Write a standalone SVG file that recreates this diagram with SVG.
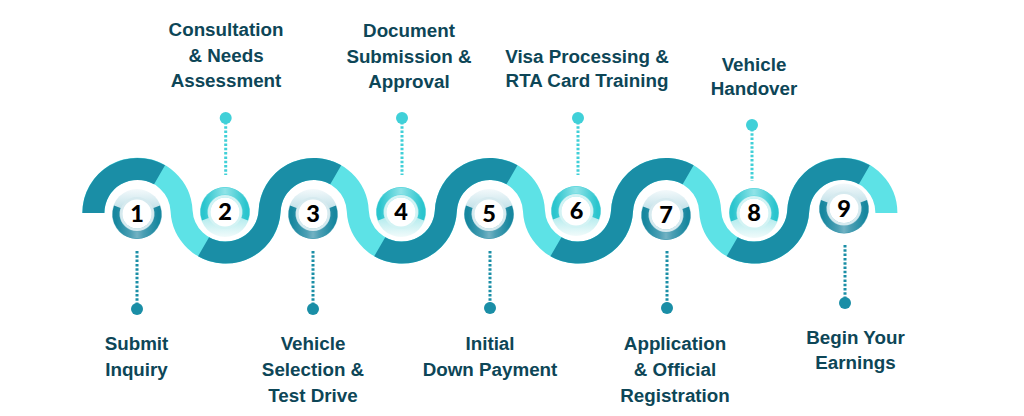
<svg xmlns="http://www.w3.org/2000/svg" width="1024" height="416" viewBox="0 0 1024 416">
  <style>
    .lbl { font-family: "Liberation Sans", Arial, sans-serif; font-weight: 700; font-size: 18.8px; fill: #0d4657; text-anchor: middle; }
    .num { font-family: Lato, "Liberation Sans", Arial, sans-serif; font-weight: 900; font-size: 23.5px; fill: #000000; text-anchor: middle; }
    .band { fill: none; stroke-width: 22; stroke-linecap: butt; }
    .dark { stroke: #1a8ea6; }
    .light { stroke: #5de2e6; }
    .dotline-d { stroke: #1a8ea6; stroke-width: 3; stroke-dasharray: 2.5 1.8; fill: none; }
    .dotline-l { stroke: #40d0d8; stroke-width: 3; stroke-dasharray: 2.5 1.8; fill: none; }
    .dot-d { fill: #1a8ea6; }
    .dot-l { fill: #40d0d8; }
  </style>
  <defs>
    <linearGradient id="gOddDisc" x1="0" y1="0" x2="0" y2="1">
      <stop offset="0" stop-color="#f3f9fb"/>
      <stop offset="0.45" stop-color="#bcdee6"/>
      <stop offset="1" stop-color="#3594ab"/>
    </linearGradient>
    <linearGradient id="gOddArc" x1="0" y1="0" x2="1" y2="0">
      <stop offset="0" stop-color="#17879f"/>
      <stop offset="0.35" stop-color="#4c9fb4"/>
      <stop offset="0.5" stop-color="#72b2c3"/>
      <stop offset="0.65" stop-color="#4c9fb4"/>
      <stop offset="1" stop-color="#17879f"/>
    </linearGradient>
    <linearGradient id="gEvenDisc" x1="0" y1="0" x2="0" y2="1">
      <stop offset="0" stop-color="#3fd0d8"/>
      <stop offset="0.5" stop-color="#a3e7ea"/>
      <stop offset="1" stop-color="#f1fbfb"/>
    </linearGradient>
    <linearGradient id="gEvenArc" x1="0" y1="0" x2="1" y2="0">
      <stop offset="0" stop-color="#2bc5ce"/>
      <stop offset="0.5" stop-color="#8fe3e7"/>
      <stop offset="1" stop-color="#2bc5ce"/>
    </linearGradient>
    <g id="iconOdd">
      <circle r="25" fill="url(#gOddDisc)"/>
      <path d="M-19.73,-7.18 A21,21 0 1 0 19.73,-7.18" fill="none" stroke="url(#gOddArc)" stroke-width="7"/>
      <circle r="15.8" fill="none" stroke="#d6eaef" stroke-width="2.4"/>
      <circle r="14.6" fill="#ffffff"/>
    </g>
    <g id="iconEven">
      <circle r="25" fill="url(#gEvenDisc)"/>
      <path d="M-19.73,7.18 A21,21 0 1 1 19.73,7.18" fill="none" stroke="url(#gEvenArc)" stroke-width="7"/>
      <circle r="15.8" fill="none" stroke="#d3f3f4" stroke-width="2.4"/>
      <circle r="14.6" fill="#ffffff"/>
    </g>
  </defs>

  <rect width="1024" height="416" fill="#ffffff"/>

  <g id="wave">
    <path class="band light" d="M93.39,213 A44.107,44.107 0 0 1 181.55,210.75 A44.107,44.107 0 0 0 269.65,210.75 A44.107,44.107 0 0 1 357.75,210.75 A44.107,44.107 0 0 0 445.85,210.75 A44.107,44.107 0 0 1 533.95,210.75 A44.107,44.107 0 0 0 622.05,210.75 A44.107,44.107 0 0 1 710.15,210.75 A44.107,44.107 0 0 0 798.25,210.75 A44.107,44.107 0 0 1 886.41,213"/>
    <path class="band dark" d="M93.39,213 A44.107,44.107 0 0 1 159.55,174.80"/>
    <path class="band dark" d="M203.55,246.70 A44.107,44.107 0 0 0 269.65,210.75 A44.107,44.107 0 0 1 335.75,174.80"/>
    <path class="band dark" d="M379.75,246.70 A44.107,44.107 0 0 0 445.85,210.75 A44.107,44.107 0 0 1 511.95,174.80"/>
    <path class="band dark" d="M555.95,246.70 A44.107,44.107 0 0 0 622.05,210.75 A44.107,44.107 0 0 1 688.15,174.80"/>
    <path class="band dark" d="M732.15,246.70 A44.107,44.107 0 0 0 798.25,210.75 A44.107,44.107 0 0 1 864.35,174.80"/>
  </g>

  <g id="connectors">
    <line class="dotline-d" x1="137" y1="251" x2="137" y2="304"/>
    <circle class="dot-d" cx="137" cy="309" r="6"/>
    <line class="dotline-l" x1="225.7" y1="122" x2="225.7" y2="175"/>
    <circle class="dot-l" cx="225.7" cy="118" r="6"/>
    <line class="dotline-d" x1="313" y1="251" x2="313" y2="304"/>
    <circle class="dot-d" cx="313" cy="309" r="6"/>
    <line class="dotline-l" x1="402" y1="122" x2="402" y2="175"/>
    <circle class="dot-l" cx="402" cy="118" r="6"/>
    <line class="dotline-d" x1="490" y1="251" x2="490" y2="303"/>
    <circle class="dot-d" cx="490" cy="308" r="6"/>
    <line class="dotline-l" x1="578" y1="122" x2="578" y2="175"/>
    <circle class="dot-l" cx="578" cy="118" r="6"/>
    <line class="dotline-d" x1="667" y1="251" x2="667" y2="303"/>
    <circle class="dot-d" cx="667" cy="308" r="6"/>
    <line class="dotline-l" x1="752" y1="129" x2="752" y2="181"/>
    <circle class="dot-l" cx="752" cy="125" r="6"/>
    <line class="dotline-d" x1="845" y1="245" x2="845" y2="298"/>
    <circle class="dot-d" cx="845" cy="303" r="6"/>
  </g>

  <g id="step1">
    <use href="#iconOdd" transform="translate(137,214)"/>
    <text class="num" x="137" y="222.3">1</text>
    <text class="lbl" x="136.5" y="350">Submit</text>
    <text class="lbl" x="136.5" y="376">Inquiry</text>
  </g>
  <g id="step2">
    <use href="#iconEven" transform="translate(225,212)"/>
    <text class="num" x="225" y="220.3">2</text>
    <text class="lbl" x="226" y="36">Consultation</text>
    <text class="lbl" x="226" y="61.5">&amp; Needs</text>
    <text class="lbl" x="226" y="86.5">Assessment</text>
  </g>
  <g id="step3">
    <use href="#iconOdd" transform="translate(313,214)"/>
    <text class="num" x="313" y="222.3">3</text>
    <text class="lbl" x="313" y="350">Vehicle</text>
    <text class="lbl" x="313" y="376">Selection &amp;</text>
    <text class="lbl" x="313" y="402">Test Drive</text>
  </g>
  <g id="step4">
    <use href="#iconEven" transform="translate(401,212)"/>
    <text class="num" x="401" y="220.3">4</text>
    <text class="lbl" x="409" y="36.5">Document</text>
    <text class="lbl" x="409" y="62.5">Submission &amp;</text>
    <text class="lbl" x="409" y="87.5">Approval</text>
  </g>
  <g id="step5">
    <use href="#iconOdd" transform="translate(489,214)"/>
    <text class="num" x="489" y="222.3">5</text>
    <text class="lbl" x="490" y="350">Initial</text>
    <text class="lbl" x="490" y="376">Down Payment</text>
  </g>
  <g id="step6">
    <use href="#iconEven" transform="translate(576,211)"/>
    <text class="num" x="576.5" y="219.3">6</text>
    <text class="lbl" x="587" y="62.5">Visa Processing &amp;</text>
    <text class="lbl" x="587" y="87">RTA Card Training</text>
  </g>
  <g id="step7">
    <use href="#iconOdd" transform="translate(666,215)"/>
    <text class="num" x="666" y="223.3">7</text>
    <text class="lbl" x="675" y="350">Application</text>
    <text class="lbl" x="675" y="376">&amp; Official</text>
    <text class="lbl" x="675" y="402">Registration</text>
  </g>
  <g id="step8">
    <use href="#iconEven" transform="translate(754,213)"/>
    <text class="num" x="754" y="221.3">8</text>
    <text class="lbl" x="754" y="71">Vehicle</text>
    <text class="lbl" x="754" y="95">Handover</text>
  </g>
  <g id="step9">
    <use href="#iconOdd" transform="translate(844,208.5)"/>
    <text class="num" x="844" y="216.8">9</text>
    <text class="lbl" x="855.5" y="344">Begin Your</text>
    <text class="lbl" x="855.5" y="369">Earnings</text>
  </g>
</svg>
